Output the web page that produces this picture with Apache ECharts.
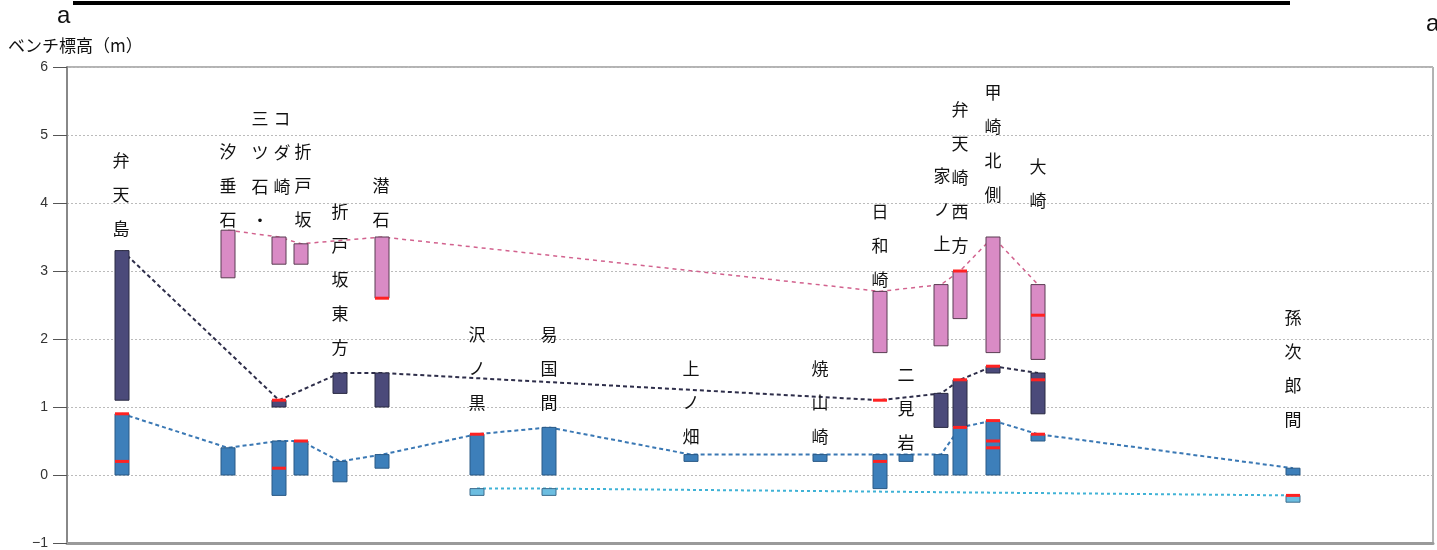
<!DOCTYPE html>
<html><head><meta charset="utf-8">
<script src="https://cdn.jsdelivr.net/npm/echarts@6/dist/echarts.min.js"></script>
<style>html,body{margin:0;padding:0;background:#fff;}#c{width:1437px;height:550px;}</style>
</head><body><div id="c"></div>
<script>
// ---- data ----
const sites = ['弁天島','汐垂石','三ツ石・コダ崎','折戸坂','折戸坂東方','潜石','沢ノ黒','易国間','上ノ畑','焼山崎','日和崎','二見岩','家ノ上','弁天崎西方','甲崎北側','大崎','孫次郎間'];
const sitePos = [55,161,212,234,273,315,410,482,624,753,813,839,874,893,926,971,1226];
const pinkTop    = [null,3.6,3.5,3.4,null,3.5,null,null,null,null,2.7,null,2.8,3.0,3.5,2.8,null];
const pinkBottom = [null,2.9,3.1,3.1,null,2.6,null,null,null,null,1.8,null,1.9,2.3,1.8,1.7,null];
const navyTop    = [3.3,null,1.1,null,1.5,1.5,null,null,null,null,null,null,1.2,1.4,1.6,1.5,null];
const navyBottom = [1.1,null,1.0,null,1.2,1.0,null,null,null,null,null,null,0.7,0.7,1.5,0.9,null];
const navyTrend  = [3.3,null,1.1,null,1.5,1.5,null,null,null,null,1.1,null,1.2,1.4,1.6,1.5,null];
const blueTop    = [0.9,0.4,0.5,0.5,0.2,0.3,0.6,0.7,0.3,0.3,0.3,0.3,0.3,0.7,0.8,0.6,0.1];
const blueBottom = [0,0,-0.3,0,-0.1,0.1,0,0,0.2,0.2,-0.2,0.2,0,0,0,0.5,0];
const lightTop    = [null,null,null,null,null,null,-0.2,-0.2,null,null,null,null,null,null,null,null,-0.3];
const lightBottom = [null,null,null,null,null,null,-0.3,-0.3,null,null,null,null,null,null,null,null,-0.4];
// red marks: [site index, level]
const redMarks = [[0,0.9],[0,0.2],[2,1.1],[2,0.1],[3,0.5],[5,2.6],[6,0.6],[10,1.1],[10,0.2],[13,3.0],[13,1.4],[13,0.7],[14,1.6],[14,0.8],[14,0.5],[14,0.4],[15,2.35],[15,1.4],[15,0.6],[16,-0.3]];
// vertical site labels: [text, x position, level of first character]
const labels = [['弁天島',54,4.63],['汐垂石',161,4.75],['三ツ石・',193,5.24],['コダ崎',215,5.24],['折戸坂',236,4.75],['折戸坂東方',273,3.87],['潜石',314,4.25],['沢ノ黒',410,2.06],['易国間',482,2.06],['上ノ畑',624,1.57],['焼山崎',753,1.57],['日和崎',813,3.87],['二見岩',839,1.47],['家ノ上',875,4.41],['弁天崎西方',893,5.37],['甲崎北側',926,5.63],['大崎',971,4.53],['孫次郎間',1226,2.32]];
const yTicks = [-1,0,1,2,3,4,5,6];

// ---- build ----
function rangeData(top, bottom){
  const out=[];
  sitePos.forEach((p,i)=>{ if(top[i]!=null) out.push([p,top[i],bottom[i]]); });
  return out;
}
function lineData(vals){ return sitePos.map((p,i)=>[p,vals[i]]); }
const BW = 14;
function barSeries(top,bottom,fill,stroke){
  return {type:'custom', z:3, data:rangeData(top,bottom), renderItem:(params,api)=>{
    const a=api.coord([api.value(0),api.value(1)]);
    const b=api.coord([api.value(0),api.value(2)]);
    return {type:'rect', shape:{x:a[0]-BW/2,y:a[1],width:BW,height:b[1]-a[1]}, style:{fill:fill,stroke:stroke,lineWidth:1}};
  }};
}
function dashLine(vals,color,width,dash){
  return {type:'line', z:2, data:lineData(vals), connectNulls:true, symbol:'none', silent:true,
    lineStyle:{color:color,width:width,type:dash}};
}
const option = {
  animation:false,
  grid:{left:67,right:4,top:67,bottom:7,show:true,borderColor:'#666',borderWidth:1},
  xAxis:{type:'value',min:0,max:1366,axisLine:{onZero:false,lineStyle:{color:'#9a9a9a',width:3}},axisTick:{show:false},axisLabel:{show:false},splitLine:{show:false}},
  yAxis:{type:'value',min:-1,max:6,interval:1,
    name:'ベンチ標高（m）',nameLocation:'end',nameGap:13,
    nameTextStyle:{align:'left',padding:[0,0,0,-59],fontSize:17,color:'#111',fontFamily:'Noto Sans CJK JP'},
    axisLine:{onZero:false,lineStyle:{color:'#888',width:2}},
    axisTick:{show:true,inside:false,length:14,lineStyle:{color:'#555',width:1}},
    axisLabel:{margin:19,fontSize:14,color:'#333',fontFamily:'Liberation Sans',
      formatter:v=>yTicks.includes(v)?String(v).replace('-','−'):''},
    splitLine:{show:true,lineStyle:{color:'#bbb',type:[2,2],width:1}}},
  graphic:[
    {type:'rect',shape:{x:73,y:1,width:1217,height:4},style:{fill:'#000'}},
    {type:'text',style:{text:'a',x:57,y:4,fill:'#111',font:'24px "Liberation Sans"'}},
    {type:'text',style:{text:'a',x:1426,y:12,fill:'#111',font:'24px "Liberation Sans"'}}
  ],
  series:[
    dashLine(pinkTop,'#d2628e',1.5,[4,4]),
    dashLine(navyTrend,'#2e2e4a',2,[4,3]),
    dashLine(blueTop,'#3a78b4',2,[4,3]),
    dashLine(lightTop,'#3fb2d6',2,[3,3]),
    barSeries(pinkTop,pinkBottom,'#d98bc5','#5a3d52'),
    barSeries(navyTop,navyBottom,'#4b4a7a','#2a2a42'),
    barSeries(blueTop,blueBottom,'#3d7fba','#2b5a86'),
    barSeries(lightTop,lightBottom,'#6cbde0','#3d6d8e'),
    {type:'custom', z:5, data:redMarks.map(m=>[sitePos[m[0]],m[1]]), renderItem:(params,api)=>{
      const a=api.coord([api.value(0),api.value(1)]);
      return {type:'rect', shape:{x:a[0]-BW/2,y:a[1]-1.5,width:BW,height:3}, style:{fill:'#ff2222'}};
    }},
    {type:'custom', z:6, data:labels.map(l=>[l[1],l[2],l[0]]), renderItem:(params,api)=>{
      const a=api.coord([api.value(0),api.value(1)]);
      const txt=String(labels[params.dataIndex][0]).split('').join('\n');
      return {type:'text', style:{text:txt,x:a[0],y:a[1]-17,align:'center',verticalAlign:'top',
        fill:'#111',fontSize:17,lineHeight:34,fontFamily:'Noto Sans CJK JP'}};
    }}
  ]
};
const chart = echarts.init(document.getElementById('c'),null,{renderer:'canvas'});
chart.setOption(option);
</script>
</body></html>
